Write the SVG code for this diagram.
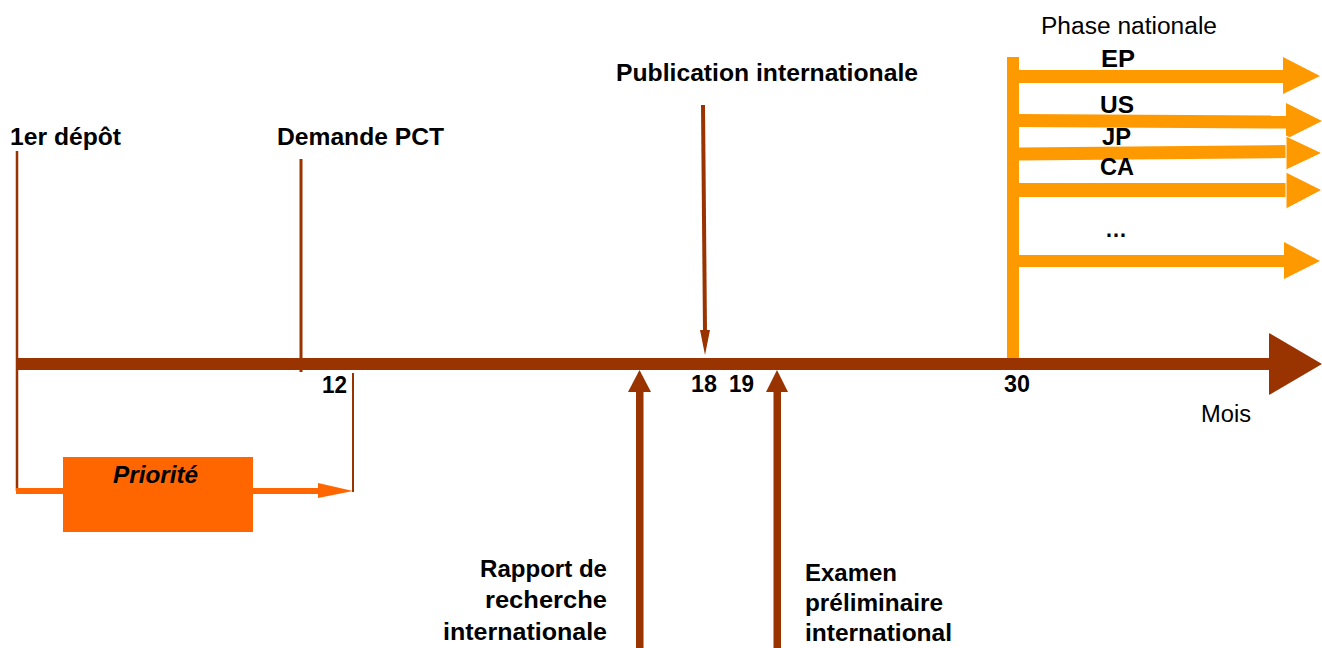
<svg xmlns="http://www.w3.org/2000/svg" width="1322" height="648" viewBox="0 0 1322 648">
<style>
  .b { font-family: "Liberation Sans", Arial, sans-serif; font-size: 23px; font-weight: bold; fill: #000; }
  .r { font-family: "Liberation Sans", Arial, sans-serif; font-size: 23px; fill: #000; }
  .bi { font-family: "Liberation Sans", Arial, sans-serif; font-size: 23px; font-weight: bold; font-style: italic; fill: #000; }
  .brown { fill: #993300; }
  .brs { stroke: #993300; fill: none; }
  .ph { fill: #FF9900; }
</style>
<rect width="1322" height="648" fill="#fff"/>

<g id="connectors">
  <line class="brs" x1="17" y1="151" x2="17" y2="491" stroke-width="2.5"/>
  <line class="brs" x1="301" y1="159" x2="301" y2="372" stroke-width="3"/>
  <line class="brs" x1="353" y1="373" x2="353" y2="492" stroke-width="2"/>
  <rect x="16" y="488" width="303" height="6" fill="#FF6600"/>
  <polygon points="318,483 353,491 318,498" fill="#FF6600"/>
  <line class="brs" x1="703" y1="105" x2="705" y2="332" stroke-width="4"/>
  <polygon class="brown" points="700,330 710,330 705,355"/>
  <rect class="brown" x="636" y="390" width="7.5" height="258"/>
  <polygon class="brown" points="628,392 651,392 639.5,370"/>
  <rect class="brown" x="773.5" y="390" width="7.5" height="258"/>
  <polygon class="brown" points="766,392 788,392 777,370"/>
  <rect class="ph" x="1007" y="57" width="12" height="303"/>
  <rect class="ph" x="1018" y="70" width="266" height="13"/>
  <polygon class="ph" points="1283,57 1320,76 1283,94"/>
  <polygon class="ph" points="1018,114 1288,115.5 1288,128.5 1018,127"/>
  <polygon class="ph" points="1286,103 1322,121 1286,139"/>
  <polygon class="ph" points="1018,147.5 1288,145 1288,158 1018,160.5"/>
  <polygon class="ph" points="1286,136 1322,153 1286,170" stroke="#fff" stroke-width="1"/>
  <rect class="ph" x="1018" y="183" width="270" height="14"/>
  <polygon class="ph" points="1286,172 1322,190 1286,209" stroke="#fff" stroke-width="1"/>
  <rect class="ph" x="1018" y="255" width="268" height="12"/>
  <polygon class="ph" points="1284,242 1320,261 1284,279"/>
  <rect class="brown" x="16" y="358" width="1255" height="12"/>
  <polygon class="brown" points="1269,333 1322,364 1269,395"/>
</g>

<g id="node-premier-depot">
  <text class="b" x="10" y="145" textLength="111" lengthAdjust="spacingAndGlyphs">1er dépôt</text>
</g>
<g id="node-demande-pct">
  <text class="b" x="277" y="145" textLength="167" lengthAdjust="spacingAndGlyphs">Demande PCT</text>
</g>
<g id="node-publication">
  <text class="b" x="616" y="81" textLength="302" lengthAdjust="spacingAndGlyphs">Publication internationale</text>
</g>
<g id="node-priorite">
  <rect x="63" y="457" width="190" height="75" fill="#FF6600"/>
  <text class="bi" x="113" y="483" textLength="85" lengthAdjust="spacingAndGlyphs">Priorité</text>
</g>
<g id="node-rapport">
  <text class="b" x="607" y="577" text-anchor="end" textLength="127" lengthAdjust="spacingAndGlyphs">Rapport de</text>
  <text class="b" x="607" y="608" text-anchor="end" textLength="122" lengthAdjust="spacingAndGlyphs">recherche</text>
  <text class="b" x="607" y="640" text-anchor="end" textLength="164" lengthAdjust="spacingAndGlyphs">internationale</text>
</g>
<g id="node-examen">
  <text class="b" x="805" y="581" textLength="92" lengthAdjust="spacingAndGlyphs">Examen</text>
  <text class="b" x="805" y="611" textLength="138" lengthAdjust="spacingAndGlyphs">préliminaire</text>
  <text class="b" x="805" y="641" textLength="147" lengthAdjust="spacingAndGlyphs">international</text>
</g>
<g id="node-ticks">
  <text class="b" x="322" y="393" textLength="25" lengthAdjust="spacingAndGlyphs">12</text>
  <text class="b" x="691" y="392" textLength="26" lengthAdjust="spacingAndGlyphs">18</text>
  <text class="b" x="729" y="392" textLength="25" lengthAdjust="spacingAndGlyphs">19</text>
  <text class="b" x="1004" y="392" textLength="26" lengthAdjust="spacingAndGlyphs">30</text>
  <text class="r" x="1201" y="422" textLength="50" lengthAdjust="spacingAndGlyphs">Mois</text>
</g>
<g id="node-phase-nationale">
  <text class="r" x="1041" y="34" textLength="176" lengthAdjust="spacingAndGlyphs">Phase nationale</text>
  <text class="b" x="1101" y="67" textLength="34" lengthAdjust="spacingAndGlyphs">EP</text>
  <text class="b" x="1100" y="113" textLength="34" lengthAdjust="spacingAndGlyphs">US</text>
  <text class="b" x="1102" y="145" textLength="29" lengthAdjust="spacingAndGlyphs">JP</text>
  <text class="b" x="1100" y="175" textLength="34" lengthAdjust="spacingAndGlyphs">CA</text>
  <text class="b" x="1105" y="237" textLength="22" lengthAdjust="spacingAndGlyphs">…</text>
</g>
</svg>
